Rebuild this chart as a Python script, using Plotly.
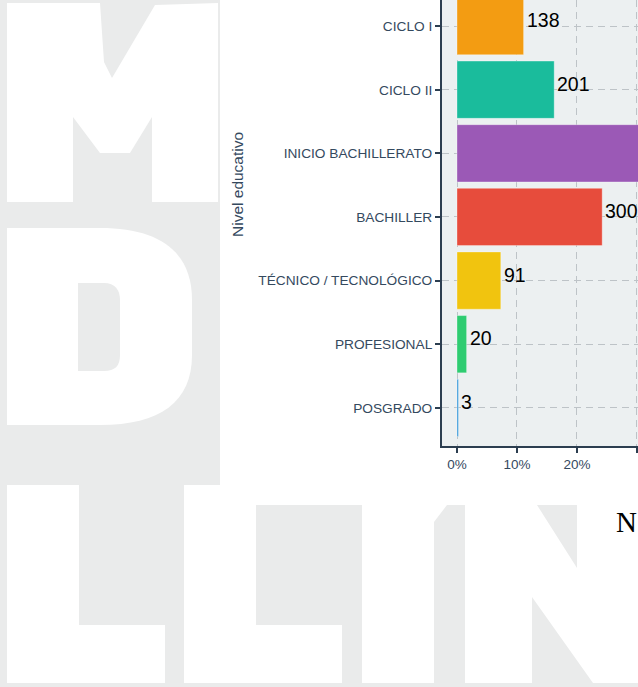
import plotly.graph_objects as go

# ---------------- data ----------------
categories = ["CICLO I", "CICLO II", "INICIO BACHILLERATO", "BACHILLER",
              "TÉCNICO / TECNOLÓGICO", "PROFESIONAL", "POSGRADO"]
counts = [138, 201, 409, 300, 91, 20, 3]
percent = [11.1, 16.2, 33.0, 24.2, 7.3, 1.6, 0.24]
bar_colors = ["#f39c12", "#1abc9c", "#9b59b6", "#e74c3c",
              "#f1c40f", "#2ecc71", "#3498db"]
x_tick_vals = [0, 10, 20, 30]
x_tick_text = ["0%", "10%", "20%", "30%"]
y_title = "Nivel educativo"
x_title = "N"

# ---------------- geometry ----------------
W, H = 638, 687
ML, MT, MR, MB = 442, 0, 0, 241
PW = W - ML - MR
PH = H - MT - MB


def px(x):
    return (x - ML) / PW


def py(y):
    return (MT + PH - y) / PH


def path(cmds):
    out = []
    for letter, pts in cmds:
        coords = " ".join(f"{px(x):.5f},{py(y):.5f}" for x, y in pts)
        out.append(f"{letter} {coords}")
    return " ".join(out) + " Z"


def poly(points):
    return path([("M", [points[0]])] + [("L", [p]) for p in points[1:]])


GRAY = "#eaebeb"
WHITE = "#ffffff"

shape_specs = [
    # M
    (poly([(7, 3), (100, 3), (104, 62), (112, 78), (155, 5), (218, 3), (218, 202),
           (152, 202), (152, 117), (130, 153), (100, 153), (73, 117), (73, 202),
           (7, 202)]), WHITE),
    # D
    (path([("M", [(7, 228)]), ("L", [(100, 228)]),
           ("C", [(160, 228), (192, 252), (192, 300)]),
           ("L", [(192, 355)]),
           ("C", [(192, 402), (160, 425), (100, 425)]),
           ("L", [(7, 425)])]), WHITE),
    (path([("M", [(78, 283)]), ("L", [(104, 283)]),
           ("C", [(115, 283), (120, 290), (120, 300)]),
           ("L", [(120, 355)]),
           ("C", [(120, 366), (115, 371), (104, 371)]),
           ("L", [(78, 371)])]), GRAY),
    # white page area around the chart
    (poly([(220, 0), (ML, 0), (ML, MT + PH), (W, MT + PH), (W, 505), (220, 505)]), WHITE),
    # L, L
    (poly([(7, 485), (79, 485), (79, 625), (165, 625), (165, 683), (7, 683)]), WHITE),
    (poly([(184, 485), (256, 485), (256, 625), (342, 625), (342, 683), (184, 683)]), WHITE),
    # I
    (poly([(362, 505), (447, 505), (434, 522), (434, 683), (362, 683)]), WHITE),
    # N
    (poly([(465, 505), (537, 505), (577, 568), (577, 505), (W, 505), (W, 683),
           (593, 683), (532, 597), (532, 683), (465, 683)]), WHITE),
]

shapes = [dict(type="path", path=p, xref="paper", yref="paper", fillcolor=c,
               line=dict(width=0), layer="below") for p, c in shape_specs]

order = list(reversed(categories))  # bottom -> top

fig = go.Figure()
fig.add_trace(go.Bar(
    x=percent, y=categories, orientation="h",
    marker=dict(color=bar_colors, line=dict(color="rgba(255,255,255,0.55)", width=0.6)),
    width=0.9, hoverinfo="skip", showlegend=False,
))

annotations = []
for c, n, p in zip(categories, counts, percent):
    annotations.append(dict(
        x=p, y=order.index(c), xref="x", yref="y", text=str(n), showarrow=False,
        xanchor="left", yanchor="middle", xshift=1, yshift=6,
        font=dict(family="Liberation Sans, Arial", size=19.5, color="#000000"),
    ))

annotations.append(dict(
    x=px(237), y=py(185), xref="paper", yref="paper", text=y_title,
    showarrow=False, textangle=-90, xanchor="center", yanchor="middle",
    font=dict(family="Liberation Sans, Arial", size=15.5, color="#34495e"),
))
annotations.append(dict(
    x=px(614), y=py(522), xref="paper", yref="paper", text=x_title,
    showarrow=False, xanchor="left", yanchor="middle",
    font=dict(family="Liberation Serif, Times New Roman", size=29, color="#000000"),
))

grid = dict(showgrid=True, gridcolor="#bdc3c7", gridwidth=1.3, griddash="7px,5px")

fig.update_layout(
    width=W, height=H,
    margin=dict(l=ML, r=MR, t=MT, b=MB, pad=0),
    paper_bgcolor=GRAY,
    plot_bgcolor="#ecf0f1",
    shapes=shapes,
    annotations=annotations,
    bargap=0.1,
    xaxis=dict(
        range=[-2.5, 30.17], tickvals=x_tick_vals, ticktext=x_tick_text,
        ticks="outside", ticklen=5, tickwidth=2, tickcolor="#2c3e50",
        showline=True, linecolor="#2c3e50", linewidth=2, zeroline=False,
        tickfont=dict(family="Liberation Sans, Arial", size=13.5, color="#34495e"),
        **grid,
    ),
    yaxis=dict(
        type="category", categoryorder="array",
        categoryarray=order, range=[-0.6, 6.41],
        ticks="outside", ticklen=5, tickwidth=2, tickcolor="#2c3e50",
        showline=True, linecolor="#2c3e50", linewidth=2, zeroline=False,
        tickfont=dict(family="Liberation Sans, Arial", size=13.7, color="#34495e"),
        **grid,
    ),
)

fig.write_html(
    "out.html",
    config=dict(displayModeBar=False),
    post_script="document.body.style.margin='0';document.body.style.overflow='hidden';",
)
